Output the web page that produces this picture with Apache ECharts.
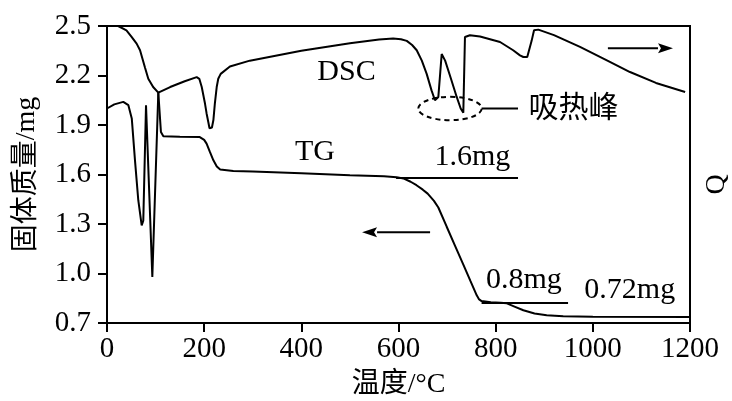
<!DOCTYPE html>
<html>
<head>
<meta charset="utf-8">
<script src="https://cdn.jsdelivr.net/npm/echarts@6/dist/echarts.min.js"></script>
<style>
html,body{margin:0;padding:0;background:#fff;}
#c{width:732px;height:401px;}
</style>
</head>
<body>
<div id="c"></div>
<script>
// ---- data ----
const xTickLabels = ['0','200','400','600','800','1000','1200'];
const yTickLabels = ['0.7','1.0','1.3','1.6','1.9','2.2','2.5'];

const tgData = [
  [0,2.5],[23,2.5],[40,2.474],[51,2.433],[61,2.393],[68,2.353],[78,2.25],[85,2.18],[95,2.13],[105.6,2.096],
  [111,1.858],[116,1.832],[150,1.829],[191,1.827],[200,1.81],[205,1.787],[212,1.735],[219,1.686],[226,1.648],[233,1.63],
  [260,1.621],[300,1.618],[400,1.607],[500,1.596],[570,1.589],[596,1.584],[610,1.576],[625,1.556],[637,1.535],[650,1.508],
  [660,1.484],[673,1.44],[682,1.40],[699,1.285],[716,1.171],[733,1.057],[748,0.955],[761,0.868],[766,0.843],[771,0.833],
  [790,0.826],[810,0.823],[823,0.819],[840,0.798],[857,0.777],[880,0.758],[905,0.747],[939,0.741],[1000,0.738],[1200,0.737]
];

const dscData = [
  [0,2.0],[15,2.025],[33.5,2.04],[44,2.02],[51,1.94],[57.6,1.686],[64.4,1.444],[71.4,1.292],[74.7,1.32],
  [80.3,2.02],[93.3,0.979],[105.6,2.096],[130,2.13],[160,2.165],[184.6,2.19],[190,2.18],[195,2.13],[201.7,2.03],
  [205,1.97],[208.5,1.918],[211,1.88],[213.4,1.868],[216,1.885],[219,1.93],[222,2.03],[225.8,2.13],[229,2.18],
  [234,2.21],[253,2.255],[294,2.29],[400,2.35],[500,2.395],
  [560,2.418],[589,2.424],[605,2.42],[617,2.41],[628,2.385],[637.5,2.353],[648,2.29],[658,2.21],[668,2.11],[675,2.05],
  [678.6,2.04],[682,2.07],[686,2.22],[688.9,2.33],[692,2.32],[696,2.29],[708,2.18],[719.8,2.07],[728,2.0],[733.4,1.975],
  [736.8,2.433],[747,2.444],[767.8,2.436],
  [809,2.403],[836,2.353],[850,2.322],[857,2.312],[865,2.312],[869,2.32],[874,2.41],[879,2.474],[887.8,2.478],[920,2.445],
  [973.6,2.373],[1030,2.29],[1076.5,2.221],[1130,2.155],[1190,2.1]
];

const refLine16 = [[595,1.583],[846,1.583]];
const refLine08 = [[771,0.824],[949,0.824]];
const labelTexts = ['DSC','TG','1.6mg','0.8mg','0.72mg','吸热峰'];
const labelPos = [[493,2.222],[428,1.735],[752,1.704],[858,0.962],[1076,0.898],[960,1.995]];

// ---- chart ----
const FONT = "'Liberation Serif','Noto Sans CJK SC',serif";
const chart = echarts.init(document.getElementById('c'), null, {renderer:'canvas'});
const axisLine = {show:true, lineStyle:{color:'#000', width:2}};
chart.setOption({
  animation:false,
  backgroundColor:'#fff',
  grid:{left:107, right:42, top:26, bottom:78, containLabel:false, outerBoundsMode:'none',
    show:true, borderColor:'#000', borderWidth:2, backgroundColor:'transparent'},
  xAxis:{
    type:'value', min:0, max:1200, interval:200,
    name:'温度/°C', nameLocation:'middle', nameGap:48,
    nameTextStyle:{fontFamily:FONT, fontSize:28, color:'#000'},
    axisLine:axisLine,
    axisTick:{show:true, length:9, lineStyle:{color:'#000', width:2}},
    axisLabel:{margin:12, fontFamily:FONT, fontSize:29, color:'#000',
      formatter:(v)=>xTickLabels[Math.round(v/200)]},
    splitLine:{show:false}
  },
  yAxis:[{
    type:'value', min:0.7, max:2.5, interval:0.3,
    name:'固体质量/mg', nameLocation:'middle', nameGap:66, nameRotate:90,
    nameTextStyle:{fontFamily:FONT, fontSize:28, color:'#000'},
    axisLine:axisLine,
    axisTick:{show:true, length:9, lineStyle:{color:'#000', width:2}},
    axisLabel:{margin:16, fontFamily:FONT, fontSize:29, color:'#000',
      formatter:(v)=>yTickLabels[Math.round((v-0.7)/0.3)]},
    splitLine:{show:false}
  },{
    type:'value', min:0.7, max:2.5, position:'right',
    name:'Q', nameLocation:'middle', nameGap:13, nameRotate:90,
    nameTextStyle:{fontFamily:FONT, fontSize:28, color:'#000', padding:[0,20,0,0]},
    axisLine:axisLine, axisTick:{show:false}, axisLabel:{show:false}, splitLine:{show:false}
  }],
  series:[{
    name:'TG', type:'line', data:tgData, showSymbol:false, symbol:'none',
    lineStyle:{color:'#000', width:2}, z:3,
    markLine:{silent:true, symbol:'none', label:{show:false},
      lineStyle:{color:'#000', width:2, type:'solid'},
      data:[[{coord:refLine16[0]},{coord:refLine16[1]}],[{coord:refLine08[0]},{coord:refLine08[1]}]]}
  },{
    name:'DSC', type:'line', yAxisIndex:1, data:dscData, showSymbol:false, symbol:'none',
    lineStyle:{color:'#000', width:2}, z:3
  }]
});

function px(p){ return chart.convertToPixel({gridIndex:0}, p); }
const g = [];
labelTexts.forEach((t,i)=>{
  const p = px(labelPos[i]);
  g.push({type:'text', x:p[0], y:p[1], z:10,
    style:{text:t, fill:'#000', font:"30px "+FONT, align:'center', verticalAlign:'middle'}});
});
// dashed ellipse around endothermic peaks
const ec = px([706,2.0]);
g.push({type:'ellipse', z:10, shape:{cx:ec[0], cy:ec[1], rx:31.7, ry:11.7},
  style:{fill:null, stroke:'#000', lineWidth:2, lineDash:[5,4]}});
const c1 = px([771,2.0]), c2 = px([846,2.0]);
g.push({type:'line', z:10, shape:{x1:c1[0], y1:c1[1], x2:c2[0], y2:c2[1]}, style:{stroke:'#000', lineWidth:2}});
// arrows
function arrow(from, to){
  const a = px(from), b = px(to);
  const dir = Math.sign(b[0]-a[0]);
  const hx = b[0] - dir*15;
  g.push({type:'line', z:10, shape:{x1:a[0], y1:a[1], x2:hx, y2:b[1]}, style:{stroke:'#000', lineWidth:2}});
  g.push({type:'polygon', z:10, shape:{points:[[b[0],b[1]],[hx,b[1]-5],[hx+dir*3,b[1]],[hx,b[1]+5]]}, style:{fill:'#000'}});
}
arrow([1031,2.365],[1165,2.365]);
arrow([665,1.25],[525,1.25]);
chart.setOption({graphic:g});
</script>
</body>
</html>
